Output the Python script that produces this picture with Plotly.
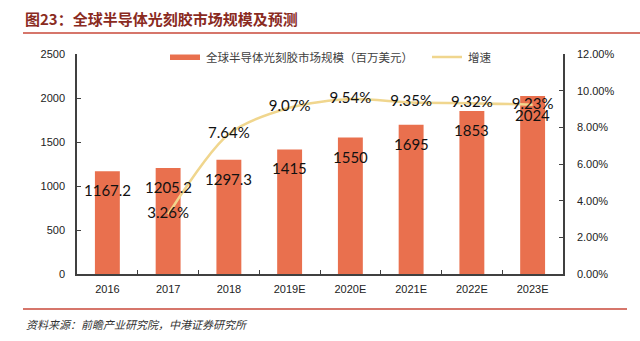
import plotly.graph_objects as go

categories = ["2016", "2017", "2018", "2019E", "2020E", "2021E", "2022E", "2023E"]
market_size = [1167.2, 1205.2, 1297.3, 1415, 1550, 1695, 1853, 2024]
growth_cats = ["2017", "2018", "2019E", "2020E", "2021E", "2022E", "2023E"]
growth = [0.0326, 0.0764, 0.0907, 0.0954, 0.0935, 0.0932, 0.0923]
bar_name = "全球半导体光刻胶市场规模（百万美元）"
line_name = "增速"

W, H = 640, 341
L, R, T, B = 77, 563, 54, 274

def px(x):
    return (x - L) / (R - L)

def py(y):
    return (B - y) / (B - T)

BAR_COLOR = "#E9704E"
LINE_COLOR = "#F0D68E"
AXIS_COLOR = "#404040"
LABEL_FONT = dict(family="Lato, Open Sans, sans-serif", size=15, color="#111111")
TICK_FONT = dict(family="Liberation Sans, Arial, sans-serif", size=11, color="#222222")

fig = go.Figure()
fig.add_trace(go.Bar(
    x=categories, y=market_size, name=bar_name,
    marker=dict(color=BAR_COLOR, line=dict(width=0)),
    showlegend=False, hoverinfo="x+y",
))
fig.add_trace(go.Scatter(
    x=growth_cats, y=growth, name=line_name, yaxis="y2",
    mode="lines+text", line=dict(color=LINE_COLOR, width=2.5, shape="spline", smoothing=0.8),
    text=[f"{v*100:.2f}%" for v in growth], textposition="middle center",
    textfont=LABEL_FONT, showlegend=False,
))

annotations = []
for i, v in enumerate(market_size):
    # category axes: annotations are positioned by category index
    annotations.append(dict(
        x=i, y=v, xref="x", yref="y", text=f"{v:g}", showarrow=False,
        yshift=-19, font=LABEL_FONT,
    ))

# Title
annotations.append(dict(
    x=px(23), y=py(18), xref="paper", yref="paper", xanchor="left", yanchor="middle",
    text="<b>图23：全球半导体光刻胶市场规模及预测</b>", showarrow=False,
    font=dict(family="Noto Sans CJK SC", size=15, color="#8A2B1F"),
))
# Source
annotations.append(dict(
    x=px(24), y=py(324), xref="paper", yref="paper", xanchor="left", yanchor="middle",
    text="<i>资料来源：前瞻产业研究院，中港证券研究所</i>", showarrow=False,
    font=dict(family="Noto Sans CJK SC", size=11, color="#333333"),
))
# Custom legend texts
LEG_FONT = dict(family="Noto Sans CJK SC", size=11.5, color="#404040")
annotations.append(dict(
    x=px(204), y=py(57), xref="paper", yref="paper", xanchor="left", yanchor="middle",
    text=bar_name, showarrow=False, font=LEG_FONT,
))
annotations.append(dict(
    x=px(466), y=py(57), xref="paper", yref="paper", xanchor="left", yanchor="middle",
    text=line_name, showarrow=False, font=LEG_FONT,
))

shapes = [
    dict(type="line", xref="paper", yref="paper", x0=px(23), x1=px(640), y0=py(33), y1=py(33),
         line=dict(color="#C9483A", width=1.5)),
    dict(type="line", xref="paper", yref="paper", x0=px(23), x1=px(627), y0=py(309), y1=py(309),
         line=dict(color="#C9483A", width=1.5)),
    dict(type="rect", xref="paper", yref="paper", x0=px(170), x1=px(200), y0=py(60), y1=py(54.5),
         fillcolor=BAR_COLOR, line=dict(width=0)),
    dict(type="line", xref="paper", yref="paper", x0=px(432), x1=px(462), y0=py(57), y1=py(57),
         line=dict(color=LINE_COLOR, width=2.5)),
]

fig.update_layout(
    width=W, height=H,
    margin=dict(l=L, r=W - R, t=T, b=H - B, pad=0),
    paper_bgcolor="white", plot_bgcolor="white",
    bargap=0.59,
    showlegend=False,
    xaxis=dict(
        type="category", categoryorder="array", categoryarray=categories,
        range=[-0.5, len(categories) - 0.5],
        showline=True, linecolor=AXIS_COLOR, linewidth=1.5,
        ticks="inside", ticklen=4, tickcolor=AXIS_COLOR, tickson="boundaries",
        tickfont=TICK_FONT, showgrid=False, ticklabelstandoff=4,
    ),
    yaxis=dict(
        range=[0, 2500], dtick=500, showline=True, linecolor=AXIS_COLOR, linewidth=1.5,
        ticks="inside", ticklen=4, tickcolor=AXIS_COLOR, tickfont=TICK_FONT,
        showgrid=False, zeroline=False, ticklabelstandoff=8,
    ),
    yaxis2=dict(
        range=[0, 0.12], dtick=0.02, tickformat=".2%", overlaying="y", side="right",
        showline=True, linecolor=AXIS_COLOR, linewidth=1.5,
        ticks="inside", ticklen=4, tickcolor=AXIS_COLOR, tickfont=TICK_FONT,
        showgrid=False, zeroline=False, ticklabelstandoff=10,
    ),
    annotations=annotations,
    shapes=shapes,
)

fig.write_html("out.html")
